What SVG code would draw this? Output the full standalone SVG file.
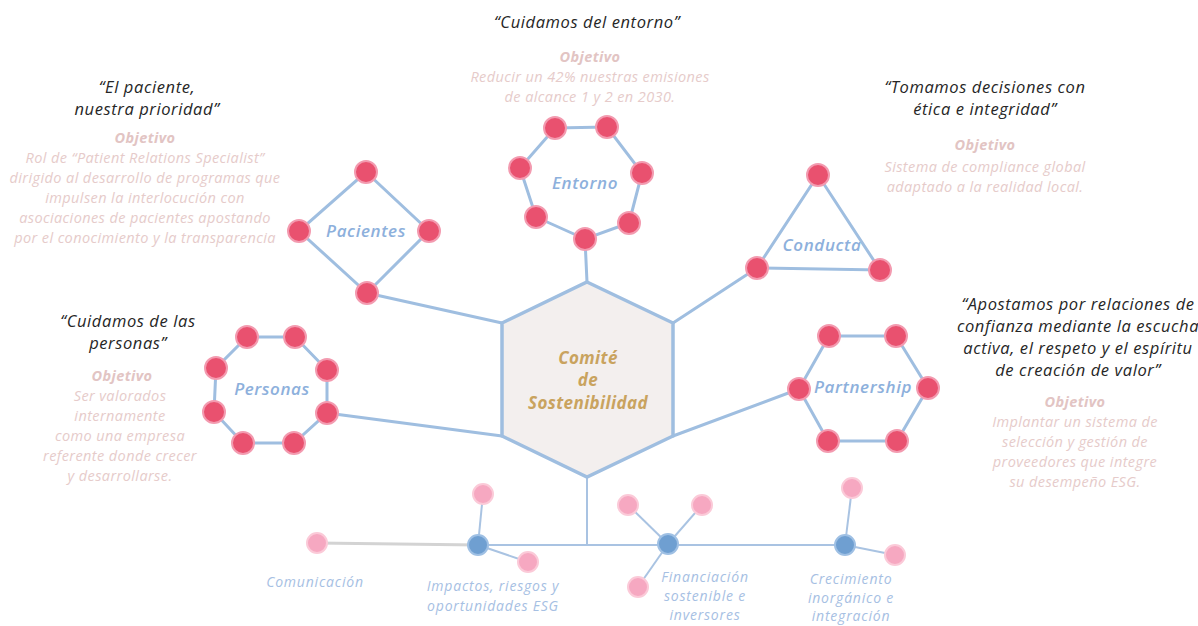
<svg xmlns="http://www.w3.org/2000/svg" width="1198" height="626" viewBox="0 0 1198 626">
  <defs>
    <style>
      .link { fill: none; stroke: #9fbee0; stroke-width: 3; stroke-linecap: round; }
      .thin { fill: none; stroke: #a9c3e2; stroke-width: 2; }
      .grey { fill: none; stroke: #d3d3d3; stroke-width: 3; }
      .hub { fill: #f3efee; stroke: #9fbee0; stroke-width: 3.5; stroke-linejoin: miter; }
      .dot { fill: #e9516f; stroke: #f39bb0; stroke-width: 2; }
      .soft { fill: #f6a8c1; stroke: #fbcad8; stroke-width: 2; }
      .blue { fill: #6f9fd1; stroke: #9fc0e4; stroke-width: 2; }
      text { font-family: "Open Sans", "Liberation Sans", sans-serif; text-anchor: middle; font-style: italic; }
      .quote { font-size: 16.5px; fill: #262626; letter-spacing: 0.6px; }
      .goal { font-size: 14.5px; fill: #e6cbca; letter-spacing: 0.4px; }
      .goal-h { font-size: 14.5px; fill: #e2c4c3; font-weight: 700; letter-spacing: 0.4px; }
      .name { font-size: 17px; font-weight: 600; fill: #8db0dc; letter-spacing: 0.6px; }
      .hub-t { font-size: 17px; font-weight: 700; fill: #c9a35e; letter-spacing: 0.4px; }
      .sub { font-size: 14px; fill: #a6c0e3; letter-spacing: 0.8px; }
    </style>
  </defs>

  <!-- connectors -->
  <g id="connectors">
    <!-- hub to clusters -->
    <line class="link" x1="502" y1="323" x2="367" y2="293"/>
    <line class="link" x1="587" y1="282" x2="585" y2="239"/>
    <line class="link" x1="673" y1="323" x2="757" y2="268"/>
    <line class="link" x1="502" y1="436" x2="327" y2="413"/>
    <line class="link" x1="673" y1="436" x2="799" y2="389"/>
    <!-- hub to bottom branch -->
    <line class="thin" x1="587" y1="477" x2="587" y2="545"/>
    <line class="grey" x1="317" y1="543" x2="478" y2="545"/>
    <line class="thin" x1="478" y1="545" x2="845" y2="545"/>
    <!-- bottom spokes -->
    <line class="thin" x1="478" y1="545" x2="483" y2="494"/>
    <line class="thin" x1="478" y1="545" x2="528" y2="562"/>
    <line class="thin" x1="668" y1="544" x2="628" y2="505"/>
    <line class="thin" x1="668" y1="544" x2="702" y2="505"/>
    <line class="thin" x1="668" y1="544" x2="638" y2="587"/>
    <line class="thin" x1="845" y1="545" x2="852" y2="488"/>
    <line class="thin" x1="845" y1="545" x2="895" y2="555"/>
  </g>

  <!-- central committee -->
  <g id="hub">
    <polygon class="hub" points="587,282 673,323 673,436 587,477 502,436 502,323"/>
    <text class="hub-t" x="588" y="364">Comité</text>
    <text class="hub-t" x="588" y="386">de</text>
    <text class="hub-t" x="588" y="409">Sostenibilidad</text>
  </g>

  <!-- Pacientes -->
  <g id="pacientes">
    <polygon class="link" points="366,172 429,231 367,293 299,231"/>
    <circle class="dot" cx="366" cy="172" r="11"/>
    <circle class="dot" cx="429" cy="231" r="11"/>
    <circle class="dot" cx="367" cy="293" r="11"/>
    <circle class="dot" cx="299" cy="231" r="11"/>
    <text class="name" x="366" y="237">Pacientes</text>
  </g>

  <!-- Entorno -->
  <g id="entorno">
    <polygon class="link" points="555,128 607,127 642,173 629,223 585,239 536,217 520,168"/>
    <circle class="dot" cx="555" cy="128" r="11"/>
    <circle class="dot" cx="607" cy="127" r="11"/>
    <circle class="dot" cx="642" cy="173" r="11"/>
    <circle class="dot" cx="629" cy="223" r="11"/>
    <circle class="dot" cx="585" cy="239" r="11"/>
    <circle class="dot" cx="536" cy="217" r="11"/>
    <circle class="dot" cx="520" cy="168" r="11"/>
    <text class="name" x="585" y="189">Entorno</text>
  </g>

  <!-- Conducta -->
  <g id="conducta">
    <polygon class="link" points="818,175 880,270 757,268"/>
    <circle class="dot" cx="818" cy="175" r="11"/>
    <circle class="dot" cx="880" cy="270" r="11"/>
    <circle class="dot" cx="757" cy="268" r="11"/>
    <text class="name" x="822" y="251">Conducta</text>
  </g>

  <!-- Personas -->
  <g id="personas">
    <polygon class="link" points="247,337 295,337 327,370 327,413 294,443 243,443 214,412 216,368"/>
    <circle class="dot" cx="247" cy="337" r="11"/>
    <circle class="dot" cx="295" cy="337" r="11"/>
    <circle class="dot" cx="327" cy="370" r="11"/>
    <circle class="dot" cx="327" cy="413" r="11"/>
    <circle class="dot" cx="294" cy="443" r="11"/>
    <circle class="dot" cx="243" cy="443" r="11"/>
    <circle class="dot" cx="214" cy="412" r="11"/>
    <circle class="dot" cx="216" cy="368" r="11"/>
    <text class="name" x="272" y="395">Personas</text>
  </g>

  <!-- Partnership -->
  <g id="partnership">
    <polygon class="link" points="829,336 896,336 928,388 897,441 828,441 799,389"/>
    <circle class="dot" cx="829" cy="336" r="11"/>
    <circle class="dot" cx="896" cy="336" r="11"/>
    <circle class="dot" cx="928" cy="388" r="11"/>
    <circle class="dot" cx="897" cy="441" r="11"/>
    <circle class="dot" cx="828" cy="441" r="11"/>
    <circle class="dot" cx="799" cy="389" r="11"/>
    <text class="name" x="863" y="393">Partnership</text>
  </g>

  <!-- bottom branch -->
  <g id="comunicacion">
    <circle class="soft" cx="317" cy="543" r="10"/>
    <text class="sub" x="315" y="587">Comunicación</text>
  </g>
  <g id="impactos">
    <circle class="soft" cx="483" cy="494" r="10"/>
    <circle class="soft" cx="528" cy="562" r="10"/>
    <circle class="blue" cx="478" cy="545" r="10"/>
    <text class="sub" x="493" y="591">Impactos, riesgos y</text>
    <text class="sub" x="493" y="611">oportunidades ESG</text>
  </g>
  <g id="financiacion">
    <circle class="soft" cx="628" cy="505" r="10"/>
    <circle class="soft" cx="702" cy="505" r="10"/>
    <circle class="soft" cx="638" cy="587" r="10"/>
    <circle class="blue" cx="668" cy="544" r="10"/>
    <text class="sub" x="705" y="582">Financiación</text>
    <text class="sub" x="705" y="601">sostenible e</text>
    <text class="sub" x="705" y="620">inversores</text>
  </g>
  <g id="crecimiento">
    <circle class="soft" cx="852" cy="488" r="10"/>
    <circle class="soft" cx="895" cy="555" r="10"/>
    <circle class="blue" cx="845" cy="545" r="10"/>
    <text class="sub" x="851" y="584">Crecimiento</text>
    <text class="sub" x="851" y="603">inorgánico e</text>
    <text class="sub" x="851" y="621">integración</text>
  </g>

  <!-- statements and goals -->
  <g id="txt-entorno">
    <text class="quote" x="587" y="28">“Cuidamos del entorno”</text>
    <text class="goal-h" x="590" y="62">Objetivo</text>
    <text class="goal" x="590" y="82">Reducir un 42% nuestras emisiones</text>
    <text class="goal" x="590" y="102">de alcance 1 y 2 en 2030.</text>
  </g>
  <g id="txt-pacientes">
    <text class="quote" x="147" y="93">“El paciente,</text>
    <text class="quote" x="147" y="115">nuestra prioridad”</text>
    <text class="goal-h" x="145" y="143">Objetivo</text>
    <text class="goal" x="145" y="163">Rol de “Patient Relations Specialist”</text>
    <text class="goal" x="145" y="183">dirigido al desarrollo de programas que</text>
    <text class="goal" x="145" y="203">impulsen la interlocución con</text>
    <text class="goal" x="145" y="223">asociaciones de pacientes apostando</text>
    <text class="goal" x="145" y="243">por el conocimiento y la transparencia</text>
  </g>
  <g id="txt-conducta">
    <text class="quote" x="985" y="93">“Tomamos decisiones con</text>
    <text class="quote" x="985" y="115">ética e integridad”</text>
    <text class="goal-h" x="985" y="150">Objetivo</text>
    <text class="goal" x="985" y="172">Sistema de compliance global</text>
    <text class="goal" x="985" y="192">adaptado a la realidad local.</text>
  </g>
  <g id="txt-personas">
    <text class="quote" x="128" y="327">“Cuidamos de las</text>
    <text class="quote" x="128" y="349">personas”</text>
    <text class="goal-h" x="122" y="381">Objetivo</text>
    <text class="goal" x="120" y="401">Ser valorados</text>
    <text class="goal" x="120" y="421">internamente</text>
    <text class="goal" x="120" y="441">como una empresa</text>
    <text class="goal" x="120" y="461">referente donde crecer</text>
    <text class="goal" x="120" y="481">y desarrollarse.</text>
  </g>
  <g id="txt-partnership">
    <text class="quote" x="1078" y="310">“Apostamos por relaciones de</text>
    <text class="quote" x="1078" y="332">confianza mediante la escucha</text>
    <text class="quote" x="1078" y="354">activa, el respeto y el espíritu</text>
    <text class="quote" x="1078" y="376">de creación de valor”</text>
    <text class="goal-h" x="1075" y="407">Objetivo</text>
    <text class="goal" x="1075" y="427">Implantar un sistema de</text>
    <text class="goal" x="1075" y="447">selección y gestión de</text>
    <text class="goal" x="1075" y="467">proveedores que integre</text>
    <text class="goal" x="1075" y="487">su desempeño ESG.</text>
  </g>
</svg>
